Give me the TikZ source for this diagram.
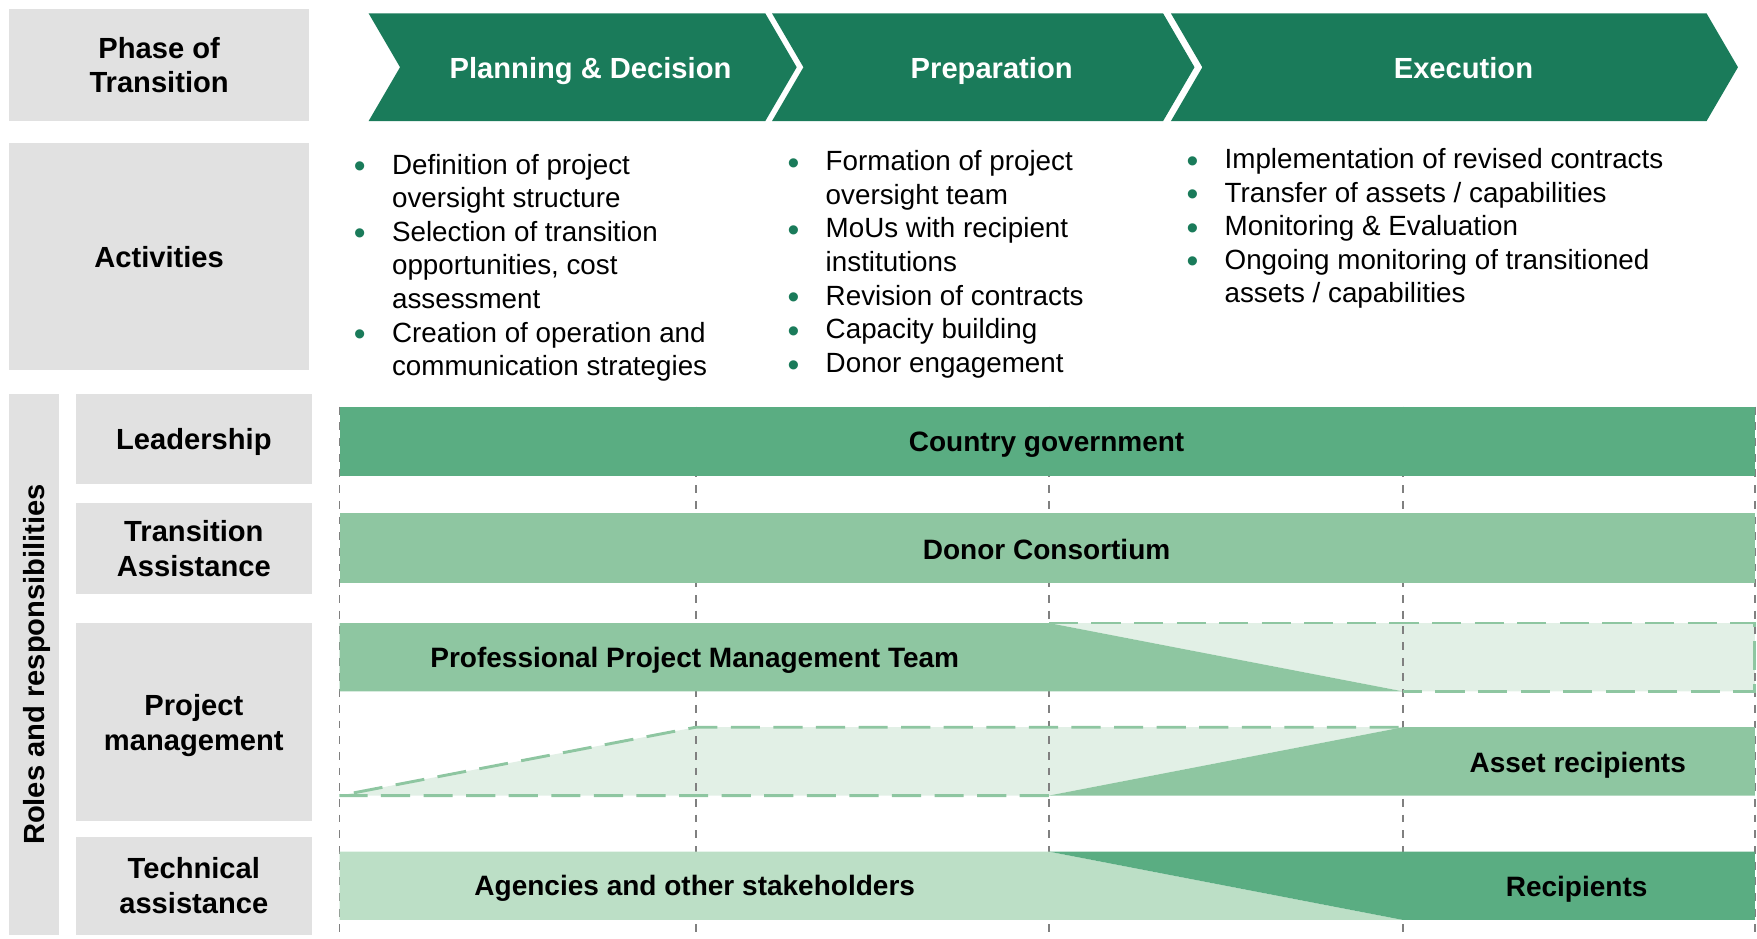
\documentclass[tikz,border=0pt]{standalone}
\usepackage{fontspec}
\setmainfont{Liberation Sans}

\definecolor{chevgreen}{RGB}{26,123,90}
\definecolor{darkbar}{RGB}{90,173,130}
\definecolor{midbar}{RGB}{142,198,161}
\definecolor{lightbar}{RGB}{188,223,198}
\definecolor{palegreen}{RGB}{226,240,230}
\definecolor{boxgray}{RGB}{225,225,225}
\definecolor{dashgray}{RGB}{128,128,128}

\newcommand{\actbullet}{\makebox[17pt][l]{\raisebox{-1.6pt}[0pt][0pt]{\textcolor{chevgreen}{\fontsize{15}{15}\selectfont\textbullet}}}}

\begin{document}
\begin{tikzpicture}[x=0.5pt,y=-0.5pt]

			\tikzstyle{graybox}=[fill=boxgray,draw=none,inner sep=0pt,
				align=center,text depth=0pt,
				font=\bfseries\fontsize{13}{15.5}\selectfont]
			\tikzstyle{chevtext}=[text=white,text height=9.3pt,text depth=0pt,
				font=\bfseries\fontsize{13}{15.5}\selectfont]
			\tikzstyle{bartext}=[text=black,text height=9pt,text depth=0pt,
				font=\bfseries\fontsize{12.5}{15}\selectfont]
			\tikzstyle{acttext}=[anchor=north west,inner sep=0pt,
				font=\fontsize{12.4}{15}\selectfont]
			\tikzstyle{phaseline}=[dashgray,line width=0.7pt,
				dash pattern=on 3.5pt off 3.5pt]
			\tikzstyle{handover}=[midbar,line width=1.3pt,
				dash pattern=on 13pt off 6pt]

			\useasboundingbox (0,0) rectangle (1568,838);

			\node[graybox,minimum width=134pt,minimum height=50pt]	(phase)	at (142,58)	{Phase of\\Transition};
			\node[graybox,minimum width=134pt,minimum height=101pt]	(activities)	at (142,229)	{Activities};
			\node[graybox,rotate=90,minimum width=241pt,minimum height=22.5pt]	(roles)	at (30.5,593)	{Roles and responsibilities};
			\node[graybox,minimum width=105pt,minimum height=40pt]	(leadership)	at (173,392)	{Leadership};
			\node[graybox,minimum width=105pt,minimum height=40.5pt]	(transition)	at (173,489.5)	{Transition\\Assistance};
			\node[graybox,minimum width=105pt,minimum height=88.5pt]	(projmgmt)	at (173,644.5)	{Project\\management};
			\node[graybox,minimum width=105pt,minimum height=43.5pt]	(techassist)	at (173,790.5)	{Technical\\assistance};

			\fill[chevgreen] (329,12) -- (683,12) -- (711,60) -- (683,108) -- (329,108) -- (357,60) -- cycle;
			\fill[chevgreen] (689,12) -- (1038,12) -- (1066,60) -- (1038,108) -- (689,108) -- (717,60) -- cycle;
			\fill[chevgreen] (1045,12) -- (1523,12) -- (1551,60) -- (1523,108) -- (1045,108) -- (1073,60) -- cycle;
			\node[chevtext]	(planning)	at (527,61)	{Planning \& Decision};
			\node[chevtext]	(preparation)	at (885,61)	{Preparation};
			\node[chevtext]	(execution)	at (1306,61)	{Execution};

			\node[acttext]	(act1)	at (315.5,134)	{\begin{tabular}{@{}l@{}l@{}}
				\actbullet & Definition of project\\ & oversight structure\\
				\actbullet & Selection of transition\\ & opportunities, cost\\ & assessment\\
				\actbullet & Creation of operation and\\ & communication strategies
				\end{tabular}};
			\node[acttext]	(act2)	at (702.5,131)	{\begin{tabular}{@{}l@{}l@{}}
				\actbullet & Formation of project\\ & oversight team\\
				\actbullet & MoUs with recipient\\ & institutions\\
				\actbullet & Revision of contracts\\
				\actbullet & Capacity building\\
				\actbullet & Donor engagement
				\end{tabular}};
			\node[acttext]	(act3)	at (1058.5,129)	{\begin{tabular}{@{}l@{}l@{}}
				\actbullet & Implementation of revised contracts\\
				\actbullet & Transfer of assets / capabilities\\
				\actbullet & Monitoring \& Evaluation\\
				\actbullet & Ongoing monitoring of transitioned\\ & assets / capabilities
				\end{tabular}};

			\fill[palegreen] (936,556) -- (1566,556) -- (1566,617) -- (1252,617) -- cycle;
			\fill[palegreen] (303,710) -- (621,649) -- (1252,649) -- (936,710) -- cycle;

			\draw[phaseline] (303,363) -- (303,834);
			\draw[phaseline] (621,363) -- (621,834);
			\draw[phaseline] (936,363) -- (936,834);
			\draw[phaseline] (1252,363) -- (1252,834);
			\draw[phaseline] (1566,363) -- (1566,834);

			\fill[darkbar] (303,363) rectangle (1566,425);
			\fill[midbar] (303,458) rectangle (1566,520);
			\fill[midbar] (303,556) -- (936,556) -- (1252,617) -- (303,617) -- cycle;
			\fill[midbar] (936,710) -- (1252,649) -- (1566,649) -- (1566,710) -- cycle;
			\fill[lightbar] (303,760) -- (936,760) -- (1252,821) -- (303,821) -- cycle;
			\fill[darkbar] (936,760) -- (1566,760) -- (1566,821) -- (1252,821) -- cycle;

			\draw[handover] (936,556) -- (1566,556) -- (1566,617) -- (1252,617);
			\draw[handover] (936,710) -- (303,710) -- (621,649) -- (1252,649);

			\node[bartext]	(government)	at (934,394)	{Country government};
			\node[bartext]	(donors)	at (934,490)	{Donor Consortium};
			\node[bartext]	(pmteam)	at (620,587)	{Professional Project Management Team};
			\node[bartext]	(assets)	at (1408,680)	{Asset recipients};
			\node[bartext]	(agencies)	at (620,790)	{Agencies and other stakeholders};
			\node[bartext]	(recipients)	at (1407,791)	{Recipients};

\end{tikzpicture}
\end{document}
